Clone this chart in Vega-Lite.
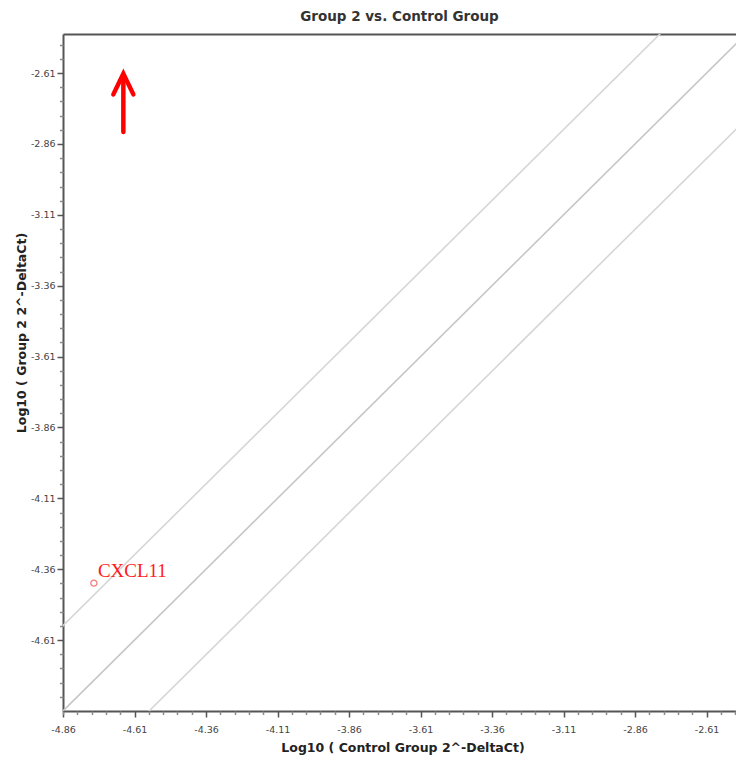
{
  "$schema": "https://vega.github.io/schema/vega-lite/v6.json",
  "autosize": "none",
  "padding": {"left": 63, "top": 34, "right": 0, "bottom": 46},
  "width": 673,
  "height": 677,
  "title": {
    "text": "Group 2 vs. Control Group",
    "font": "DejaVu Sans",
    "fontSize": 13.5,
    "fontWeight": "bold",
    "color": "#333333",
    "anchor": "middle",
    "frame": "group",
    "baseline": "alphabetic",
    "offset": 0
  },
  "config": {"view": {"stroke": null}},
  "datasets": {
    "lines": [
      {"line": "equal", "x": -4.86, "y": -4.86},
      {"line": "equal", "x": -2.40, "y": -2.40},
      {"line": "up", "x": -4.95, "y": -4.649},
      {"line": "up", "x": -2.70, "y": -2.399},
      {"line": "down", "x": -4.65, "y": -4.951},
      {"line": "down", "x": -2.40, "y": -2.701}
    ],
    "genes": [
      {"gene": "CXCL11", "x": -4.752, "y": -4.409}
    ],
    "arrow": [
      {"seg": "shaft", "order": 1, "x": -4.649, "y": -2.818},
      {"seg": "shaft", "order": 2, "x": -4.649, "y": -2.62},
      {"seg": "head", "order": 1, "x": -4.684, "y": -2.685},
      {"seg": "head", "order": 2, "x": -4.649, "y": -2.612},
      {"seg": "head", "order": 3, "x": -4.614, "y": -2.685}
    ]
  },
  "resolve": {"axis": {"x": "independent", "y": "independent"}},
  "layer": [
    {
      "data": {"name": "lines"},
      "mark": {"type": "line", "clip": true, "strokeWidth": 1.6},
      "encoding": {
        "x": {
          "field": "x", "type": "quantitative",
          "scale": {"domain": [-4.86, -2.507], "nice": false, "zero": false},
          "axis": {
            "orient": "bottom",
            "values": [-4.86, -4.61, -4.36, -4.11, -3.86, -3.61, -3.36, -3.11, -2.86, -2.61],
            "labelExpr": "'-' + format(abs(datum.value), '.2f')",
            "title": "Log10 ( Control Group 2^-DeltaCt)",
            "grid": false,
            "domainColor": "#555555", "domainWidth": 2,
            "tickColor": "#555555", "tickSize": 6, "tickWidth": 1.5,
            "labelFont": "DejaVu Sans", "labelFontSize": 9.5, "labelColor": "#444444", "labelPadding": 7,
            "labelFlush": false, "labelOverlap": false,
            "titleFont": "DejaVu Sans", "titleFontSize": 12.5, "titleFontWeight": "bold", "titleColor": "#222222",
            "titleX": 339.5, "titleY": 30, "titleBaseline": "top", "titleAlign": "center"
          }
        },
        "y": {
          "field": "y", "type": "quantitative",
          "scale": {"domain": [-4.86, -2.472], "nice": false, "zero": false},
          "axis": {
            "orient": "left",
            "values": [-4.61, -4.36, -4.11, -3.86, -3.61, -3.36, -3.11, -2.86, -2.61],
            "labelExpr": "'-' + format(abs(datum.value), '.2f')",
            "title": "Log10 ( Group 2 2^-DeltaCt)",
            "grid": false,
            "domainColor": "#555555", "domainWidth": 2,
            "tickColor": "#555555", "tickSize": 6, "tickWidth": 1.5,
            "labelFont": "DejaVu Sans", "labelFontSize": 9.5, "labelColor": "#444444", "labelPadding": 2,
            "labelFlush": false, "labelOverlap": false,
            "titleFont": "DejaVu Sans", "titleFontSize": 12.5, "titleFontWeight": "bold", "titleColor": "#222222",
            "titleX": -38, "titleY": 298.5, "titleBaseline": "alphabetic", "titleAlign": "center", "titleAngle": 270
          }
        },
        "detail": {"field": "line", "type": "nominal"},
        "color": {
          "field": "line", "type": "nominal",
          "scale": {"domain": ["equal", "up", "down"], "range": ["#c6c6c6", "#d6d6d6", "#d6d6d6"]},
          "legend": null
        }
      }
    },
    {
      "data": {"name": "genes"},
      "mark": {"type": "point", "shape": "circle", "filled": false, "size": 38, "strokeWidth": 1.3, "color": "#f04848"},
      "encoding": {
        "x": {
          "field": "x", "type": "quantitative",
          "scale": {"domain": [-4.86, -2.507], "nice": false, "zero": false},
          "axis": {
            "orient": "bottom",
            "values": [-4.86, -4.81, -4.76, -4.71, -4.66, -4.56, -4.51, -4.46, -4.41, -4.31, -4.26, -4.21, -4.16, -4.06, -4.01, -3.96, -3.91, -3.81, -3.76, -3.71, -3.66, -3.56, -3.51, -3.46, -3.41, -3.31, -3.26, -3.21, -3.16, -3.06, -3.01, -2.96, -2.91, -2.81, -2.76, -2.71, -2.66, -2.56, -2.51],
            "labels": false, "domain": false, "grid": false, "title": null,
            "tickColor": "#8a8a8a", "tickSize": 3.5, "tickWidth": 1.5
          }
        },
        "y": {
          "field": "y", "type": "quantitative",
          "scale": {"domain": [-4.86, -2.472], "nice": false, "zero": false},
          "axis": {
            "orient": "left",
            "values": [-4.81, -4.76, -4.71, -4.66, -4.56, -4.51, -4.46, -4.41, -4.31, -4.26, -4.21, -4.16, -4.06, -4.01, -3.96, -3.91, -3.81, -3.76, -3.71, -3.66, -3.56, -3.51, -3.46, -3.41, -3.31, -3.26, -3.21, -3.16, -3.06, -3.01, -2.96, -2.91, -2.81, -2.76, -2.71, -2.66, -2.56, -2.51],
            "labels": false, "domain": false, "grid": false, "title": null,
            "tickColor": "#8a8a8a", "tickSize": 3.5, "tickWidth": 1.5
          }
        }
      }
    },
    {
      "data": {"name": "genes"},
      "mark": {"type": "text", "font": "Liberation Serif", "fontSize": 19, "color": "#ff1a1a", "align": "left", "baseline": "alphabetic", "dx": 4, "dy": -6},
      "encoding": {
        "x": {
          "field": "x", "type": "quantitative",
          "scale": {"domain": [-4.86, -2.507], "nice": false, "zero": false},
          "axis": {
            "orient": "top", "domain": true, "domainColor": "#555555", "domainWidth": 2,
            "ticks": false, "labels": false, "grid": false, "title": null
          }
        },
        "y": {
          "field": "y", "type": "quantitative",
          "scale": {"domain": [-4.86, -2.472], "nice": false, "zero": false},
          "axis": null
        },
        "text": {"field": "gene", "type": "nominal"}
      }
    },
    {
      "data": {"name": "arrow"},
      "mark": {"type": "line", "color": "#ff0000", "strokeWidth": 4.5, "strokeCap": "round", "strokeJoin": "miter"},
      "encoding": {
        "x": {
          "field": "x", "type": "quantitative",
          "scale": {"domain": [-4.86, -2.507], "nice": false, "zero": false},
          "axis": null
        },
        "y": {
          "field": "y", "type": "quantitative",
          "scale": {"domain": [-4.86, -2.472], "nice": false, "zero": false},
          "axis": null
        },
        "detail": {"field": "seg", "type": "nominal"},
        "order": {"field": "order", "type": "quantitative"}
      }
    }
  ]
}
